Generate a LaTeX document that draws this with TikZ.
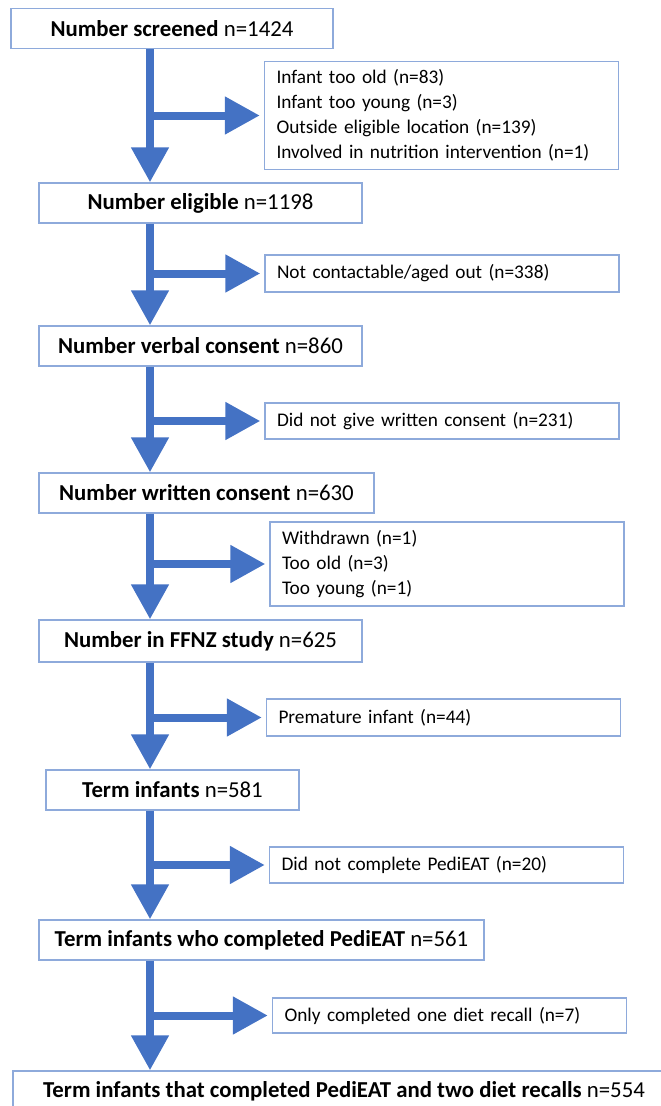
\documentclass[tikz,border=0pt]{standalone}
\usepackage{fontspec}
\setmainfont{Carlito}
\usetikzlibrary{arrows.meta}
\definecolor{flowblue}{HTML}{4472C4}
\definecolor{edgeblue}{HTML}{8EAADB}
\tikzset{
  mainbox/.style={draw=edgeblue, line width=1.4pt, minimum height=40pt, inner sep=0pt, font=\fontsize{22.8}{27}\selectfont},
  sidebox/.style={draw=edgeblue, line width=1.4pt, text width=330pt, inner xsep=12pt, inner ysep=0pt, align=left, font=\fontsize{19.3}{25}\selectfont},
  flow/.style={draw=flowblue, line width=8pt, -{Triangle[length=35pt,width=36pt]}},
  branch/.style={flow, shorten >=4pt}
}
\begin{document}
\begin{tikzpicture}[x=1pt,y=-1pt]
        \useasboundingbox (0,0) rectangle (661,1106);
        \clip (0,0) rectangle (661,1106);
        \coordinate (spine) at (150,0);
        \node [mainbox, minimum width=322pt] (screened) at (172,28.5) {\textbf{Number screened} n=1424};
        \node [mainbox, minimum width=323pt] (eligible) at (200.5,203) {\textbf{Number eligible} n=1198};
        \node [mainbox, minimum width=323pt] (verbal) at (200.5,346) {\textbf{Number verbal consent} n=860};
        \node [mainbox, minimum width=335pt] (written) at (206.5,493) {\textbf{Number written consent} n=630};
        \node [mainbox, minimum width=323pt, minimum height=42pt] (ffnz) at (200.5,641) {\textbf{Number in FFNZ study} n=625};
        \node [mainbox, minimum width=253pt] (term) at (172.5,790) {\textbf{Term infants} n=581};
        \node [mainbox, minimum width=445pt] (pediEAT) at (261.5,940) {\textbf{Term infants who completed PediEAT} n=561};
        \node [mainbox, minimum width=662pt] (final) at (344,1091) {\textbf{Term infants that completed PediEAT and two diet recalls} n=554};

        \node [sidebox, minimum height=108pt] (notEligible) at (441.5,115.5) {Infant too old (n=83)\\Infant too young (n=3)\\Outside eligible location (n=139)\\Involved in nutrition intervention (n=1)};
        \node [sidebox, minimum height=37pt] (noContact) at (442,273.5) {Not contactable/aged out (n=338)};
        \node [sidebox, minimum height=36pt] (noWritten) at (442,421) {Did not give written consent (n=231)};
        \node [sidebox, minimum height=84pt] (excluded) at (447,564) {Withdrawn (n=1)\\Too old (n=3)\\Too young (n=1)};
        \node [sidebox, minimum height=37pt] (premature) at (443.5,717.5) {Premature infant (n=44)};
        \node [sidebox, minimum height=36pt] (noPediEAT) at (446.5,865) {Did not complete PediEAT (n=20)};
        \node [sidebox, minimum height=35pt] (oneRecall) at (449.5,1015.5) {Only completed one diet recall (n=7)};

        \draw [flow] (screened.south -| spine) -- (eligible.north -| spine);
        \draw [flow] (eligible.south -| spine) -- (verbal.north -| spine);
        \draw [flow] (verbal.south -| spine) -- (written.north -| spine);
        \draw [flow] (written.south -| spine) -- (ffnz.north -| spine);
        \draw [flow] (ffnz.south -| spine) -- (term.north -| spine);
        \draw [flow] (term.south -| spine) -- (pediEAT.north -| spine);
        \draw [flow] (pediEAT.south -| spine) -- (final.north -| spine);

        \draw [branch] (spine |- notEligible.west) -- (notEligible.west);
        \draw [branch] (spine |- noContact.west) -- (noContact.west);
        \draw [branch] (spine |- noWritten.west) -- (noWritten.west);
        \draw [branch] (spine |- excluded.west) -- (excluded.west);
        \draw [branch] (spine |- premature.west) -- (premature.west);
        \draw [branch] (spine |- noPediEAT.west) -- (noPediEAT.west);
        \draw [branch] (spine |- oneRecall.west) -- (oneRecall.west);

    \end{tikzpicture}
\end{document}
